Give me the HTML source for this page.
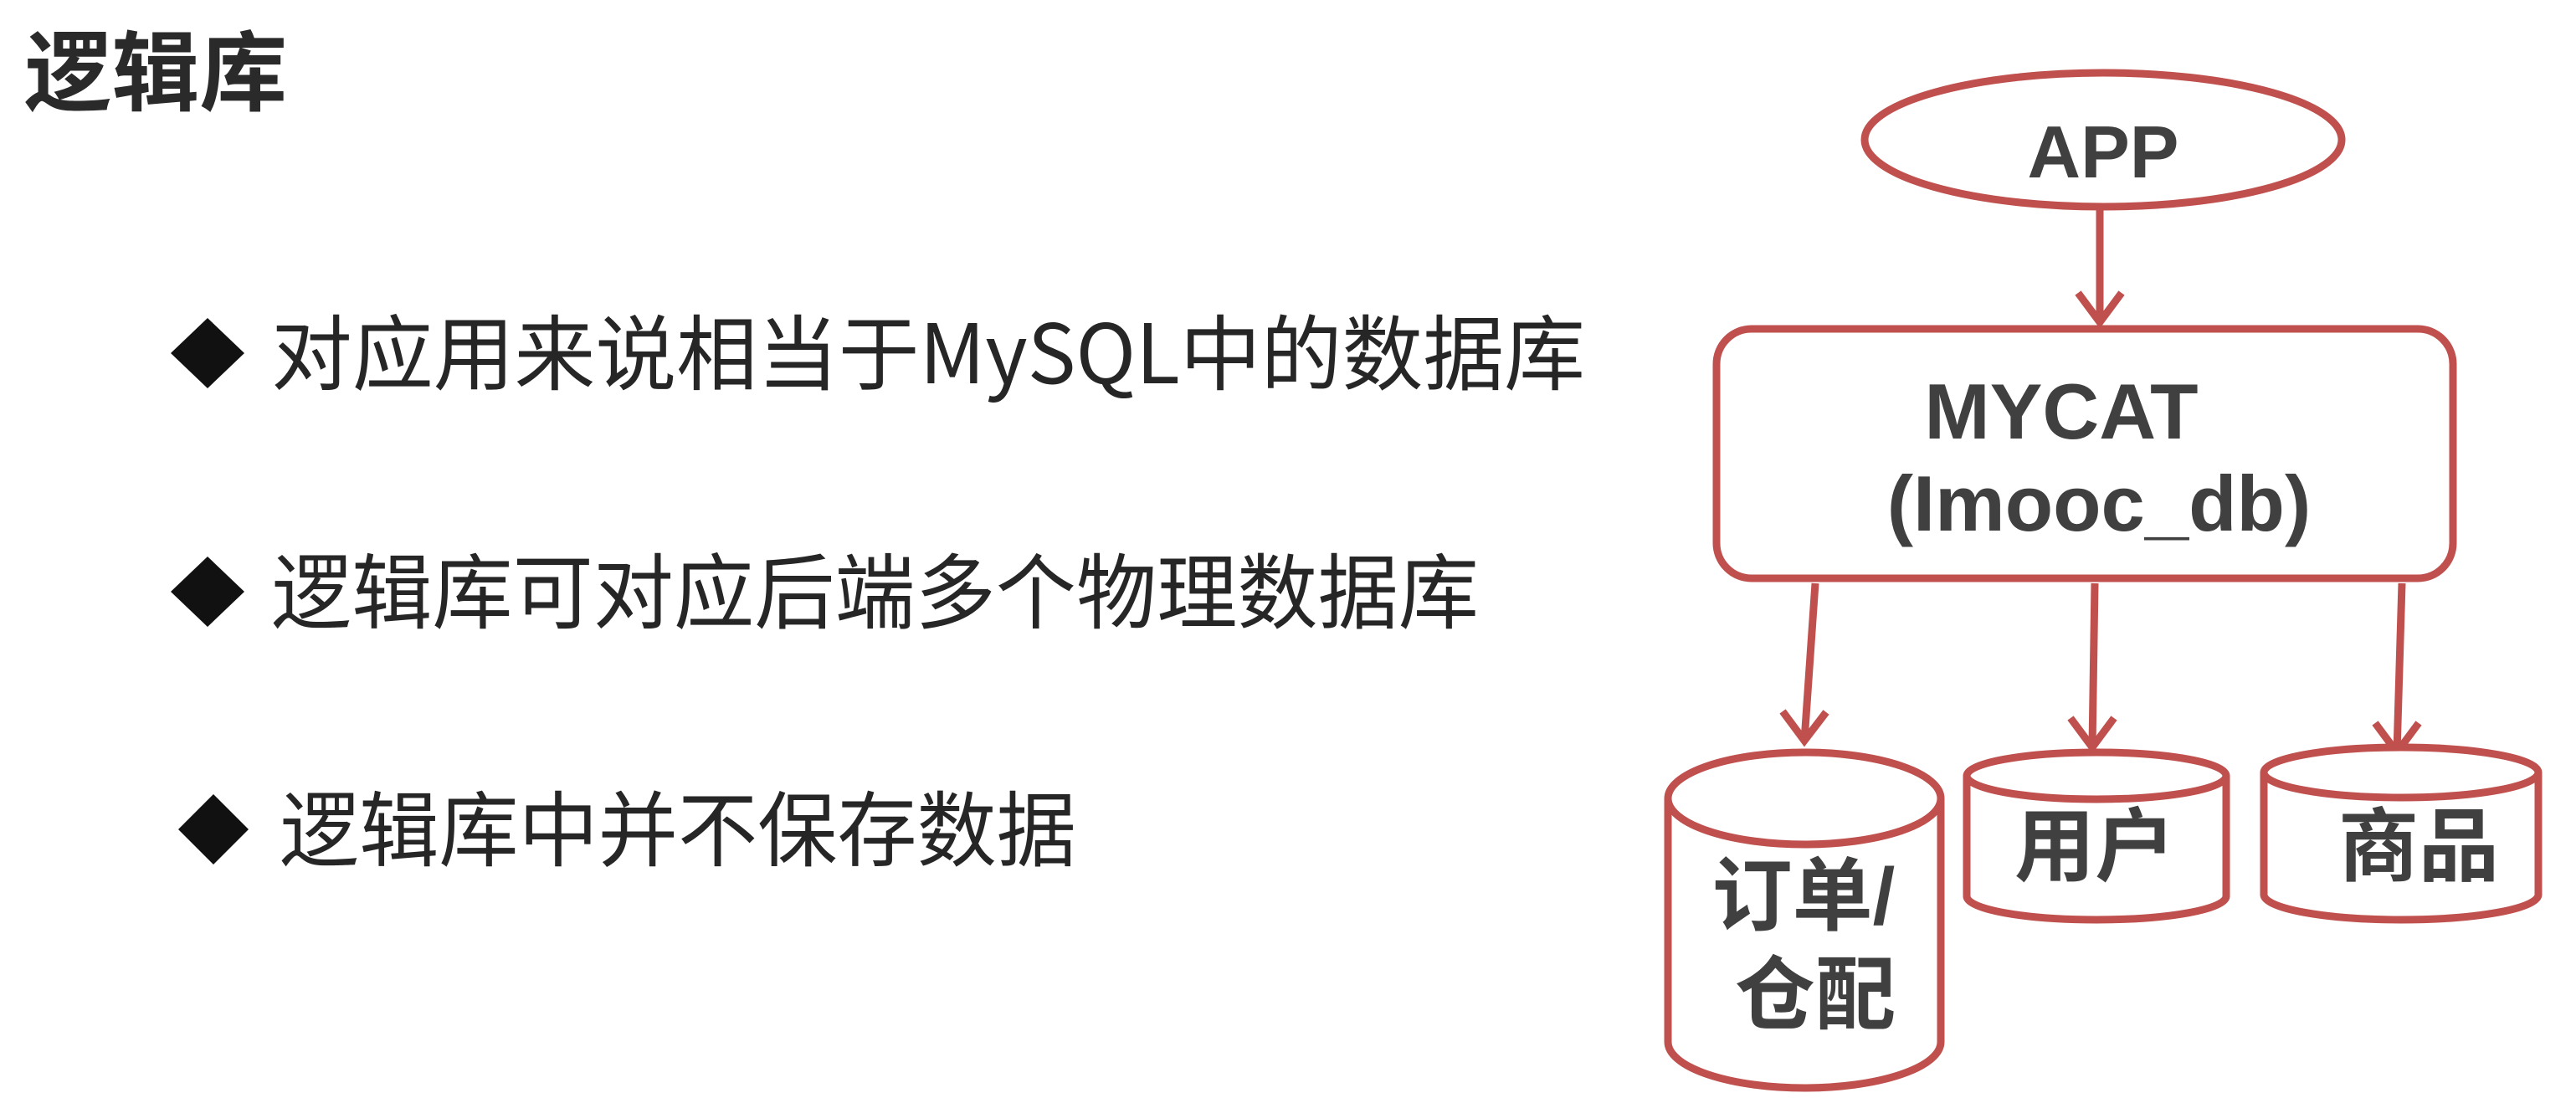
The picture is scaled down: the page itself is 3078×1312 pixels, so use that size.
<!DOCTYPE html>
<html><head><meta charset="utf-8"><style>
html,body{margin:0;padding:0;background:#fff;}
svg{display:block;}
</style></head><body>
<svg width="3078" height="1312" viewBox="0 0 3078 1312" xmlns="http://www.w3.org/2000/svg">
<g font-family="'Liberation Sans','Noto Sans CJK SC',sans-serif" fill="#262626">
<text x="29" y="124" font-size="104" font-weight="bold" fill="#2a2a2a" textLength="314" lengthAdjust="spacingAndGlyphs">逻辑库</text>
<polygon points="248,380 292,422 248,464 204,422" fill="#111"/>
<text x="324" y="458" font-size="98" font-family="'Noto Sans CJK SC',sans-serif" font-weight="normal" textLength="1570" lengthAdjust="spacingAndGlyphs">对应用来说相当于MySQL中的数据库</text>
<polygon points="248,665 292,707 248,749 204,707" fill="#111"/>
<text x="324" y="743" font-size="98" font-family="'Noto Sans CJK SC',sans-serif" font-weight="normal" textLength="1443" lengthAdjust="spacingAndGlyphs">逻辑库可对应后端多个物理数据库</text>
<polygon points="255,949 297,991 255,1033 213,991" fill="#111"/>
<text x="334" y="1027" font-size="98" font-family="'Noto Sans CJK SC',sans-serif" font-weight="normal" textLength="952" lengthAdjust="spacingAndGlyphs">逻辑库中并不保存数据</text>
</g>
<g stroke="#c0504d" stroke-width="9" fill="#fff">
<ellipse cx="2513" cy="167" rx="285" ry="80"/>
<rect x="2051" y="393" width="880" height="298" rx="42"/>
<line x1="2509" y1="250" x2="2509" y2="385" fill="none"/>
<polyline points="2483,350 2509,385 2535,350" fill="none"/>
<line x1="2169" y1="697" x2="2156" y2="885" fill="none"/>
<polyline points="2130,850 2156,885 2182,851" fill="none"/>
<line x1="2503" y1="697" x2="2500" y2="893" fill="none"/>
<polyline points="2474,858 2500,893 2526,858" fill="none"/>
<line x1="2870" y1="697" x2="2864" y2="899" fill="none"/>
<polyline points="2838,864 2864,899 2890,864" fill="none"/>
<path d="M1993,954 L1993,1245 A163,55 0 0 0 2319,1245 L2319,954"/>
<ellipse cx="2156" cy="954" rx="163" ry="55"/>
<path d="M2350,927 L2350,1071 A155,28 0 0 0 2660,1071 L2660,927"/>
<ellipse cx="2505" cy="927" rx="155" ry="28"/>
<path d="M2705,923 L2705,1069 A164,30 0 0 0 3033,1069 L3033,923"/>
<ellipse cx="2869" cy="923" rx="164" ry="30"/>
</g>
<g font-family="'Liberation Sans','Noto Sans CJK SC',sans-serif" font-weight="bold" fill="#404040" text-anchor="middle">
<text x="2513" y="212" font-size="88">APP</text>
<text x="2463" y="524" font-size="94">MYCAT</text>
<text x="2508" y="634" font-size="94">(Imooc_db)</text>
<text x="2155" y="1104" font-size="96">订单/</text>
<text x="2169" y="1222" font-size="96">仓配</text>
<text x="2503" y="1045" font-size="96">用户</text>
<text x="2890" y="1045" font-size="96">商品</text>
</g>
</svg>
</body></html>
